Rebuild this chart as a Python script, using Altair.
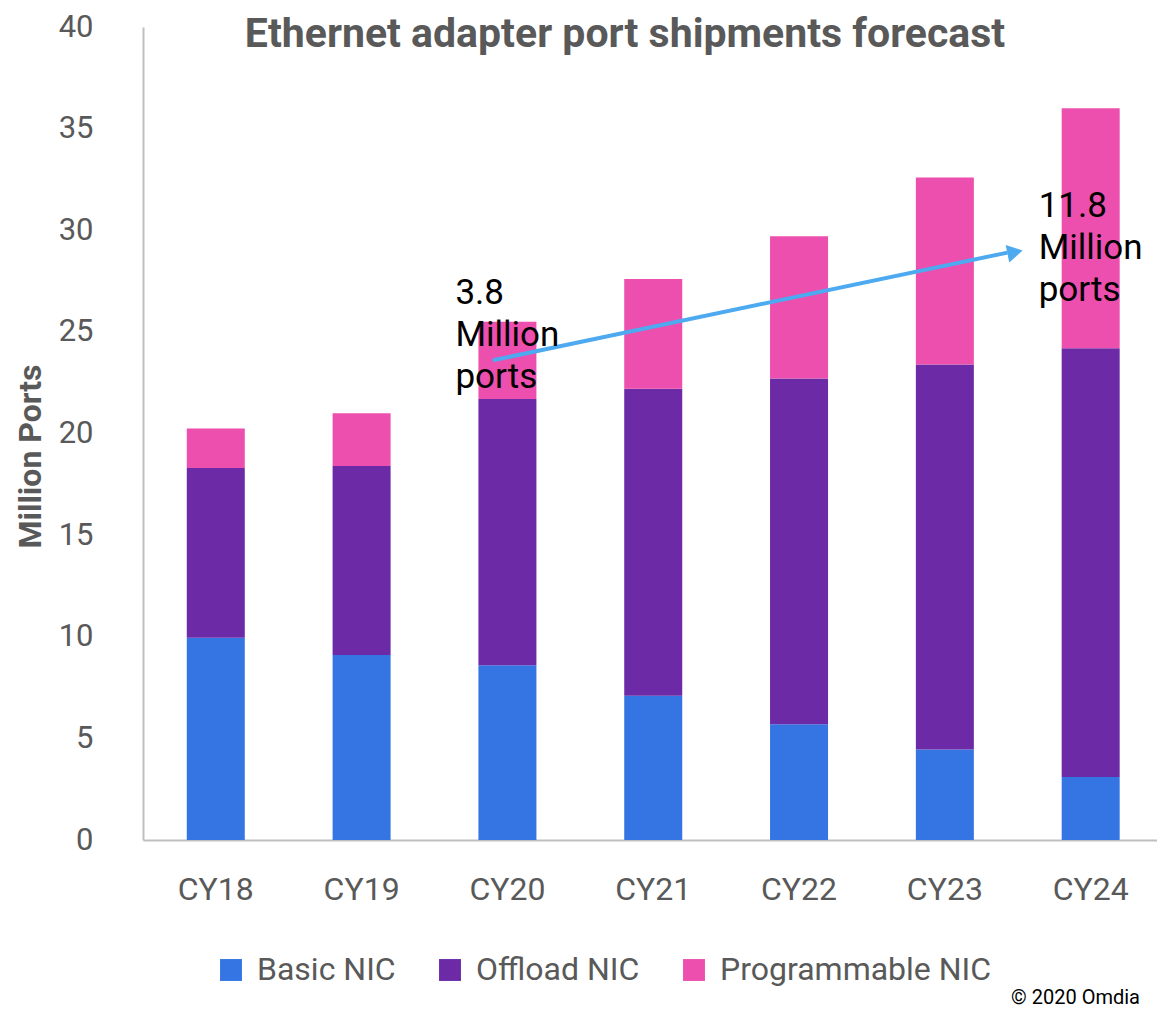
import altair as alt
import pandas as pd

categories = ["CY18", "CY19", "CY20", "CY21", "CY22", "CY23", "CY24"]
series = ["Basic NIC", "Offload NIC", "Programmable NIC"]
basic = [9.95, 9.1, 8.6, 7.1, 5.7, 4.45, 3.1]
offload = [8.35, 9.3, 13.1, 15.1, 17.0, 18.95, 21.1]
programmable = [1.95, 2.6, 3.8, 5.4, 7.0, 9.2, 11.8]
colors = ["#3574E3", "#6C2AA6", "#EC4FAD"]

# annotation values
ann_cats = ["CY20", "CY24"]
ann_texts = [["3.8", "Million", "ports"], ["11.8", "Million", "ports"]]
ann_y = [26.9, 31.2]
arrow_start = ("CY20", 23.6)
arrow_end = ("CY24", 28.9)

FONT = "Roboto"
GREY = "#595959"

rows = []
for s_i, (name, vals) in enumerate(zip(series, [basic, offload, programmable])):
    for c, v in zip(categories, vals):
        rows.append({"cat": c, "series": name, "value": v, "ord": s_i})
df = pd.DataFrame(rows)

xscale = alt.Scale(domain=categories, paddingInner=0.6, paddingOuter=0.277, align=0.54)
yscale = alt.Scale(domain=[0, 40])

bars = alt.Chart(df).mark_bar(size=58).encode(
    x=alt.X("cat:N", scale=xscale, sort=categories,
            axis=alt.Axis(title=None, labelAngle=0, ticks=False, labelPadding=34,
                          labelFontSize=32, labelColor=GREY, labelFont=FONT,
                          domainColor="#BFBFBF", domainWidth=2)),
    y=alt.Y("value:Q", stack="zero", scale=yscale,
            axis=alt.Axis(title="Million Ports", values=list(range(0, 41, 5)), grid=False,
                          ticks=False, labelPadding=50, labelFontSize=31,
                          labelColor=GREY, labelFont=FONT, domainColor="#BFBFBF",
                          domainWidth=2, titleFont=FONT, titleFontSize=32,
                          titleFontWeight="bold", titleColor=GREY, titleX=-113,
                          titleY=429, titleAngle=270, titleAlign="center",
                          titleBaseline="middle")),
    color=alt.Color("series:N", scale=alt.Scale(domain=series, range=colors),
                    legend=alt.Legend(title=None, orient="none", legendX=72, legendY=927,
                                      direction="horizontal", symbolType="square",
                                      symbolSize=480, symbolStrokeWidth=0,
                                      labelFontSize=32, labelFont=FONT, labelColor=GREY,
                                      labelOffset=10, columnPadding=38, labelLimit=500)),
    order=alt.Order("ord:Q", sort="ascending"),
)

arrow_df = pd.DataFrame({
    "c1": [arrow_start[0]], "y1": [arrow_start[1]],
    "c2": [arrow_end[0]], "y2": [arrow_end[1]],
})
arrow_line = alt.Chart(arrow_df).mark_rule(
    color="#4DAAF0", strokeWidth=4, x2Offset=-54
).encode(
    x=alt.X("c1:N", scale=xscale, bandPosition=0.25),
    x2=alt.X2("c2:N", bandPosition=0),
    y=alt.Y("y1:Q", scale=yscale),
    y2="y2:Q",
)
arrow_head = alt.Chart(arrow_df).mark_point(
    shape="triangle", filled=True, size=320, angle=78.4, color="#4DAAF0", opacity=1,
    xOffset=-49
).encode(
    x=alt.X("c2:N", scale=xscale, bandPosition=0),
    y=alt.Y("y2:Q", scale=yscale),
)

ann_df = pd.DataFrame({"cat": ann_cats, "txt": ann_texts, "y": ann_y})
ann = alt.Chart(ann_df).mark_text(
    align="left", baseline="middle", fontSize=35, font=FONT, color="black",
    lineHeight=42, dx=-52
).encode(
    x=alt.X("cat:N", scale=xscale, bandPosition=0.5),
    y=alt.Y("y:Q", scale=yscale),
    text="txt",
)

copy_df = pd.DataFrame({"t": ["© 2020 Omdia"]})
copyright_txt = alt.Chart(copy_df).mark_text(
    align="right", baseline="middle", fontSize=20, font=FONT, color="black"
).encode(x=alt.value(997), y=alt.value(971), text="t:N")

chart = alt.layer(bars, arrow_line, arrow_head, ann, copyright_txt).properties(
    width=1014, height=813,
    autosize=alt.AutoSizeParams(type="none"),
    padding={"left": 135, "top": 19, "right": 0, "bottom": 168},
    title=alt.TitleParams("Ethernet adapter port shipments forecast", anchor="middle",
                          dx=-25, dy=49, fontSize=41, font=FONT, fontWeight="bold",
                          color=GREY),
).configure_view(stroke=None)

chart.save("out.html", embed_options={"renderer": "svg", "actions": False})
